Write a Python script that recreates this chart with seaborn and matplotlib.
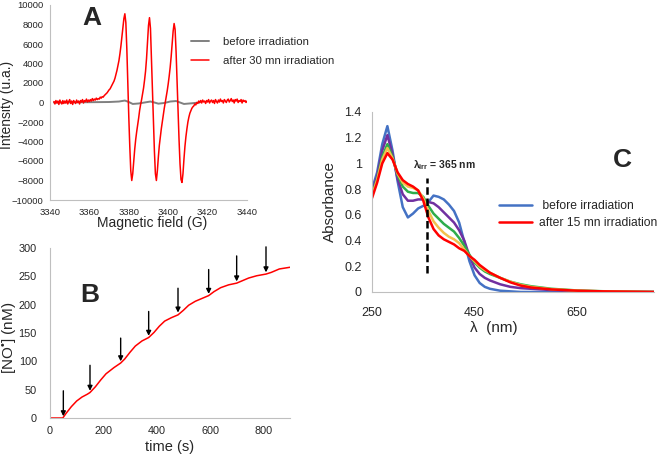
import numpy as np
import seaborn as sns
import matplotlib.pyplot as plt

# ---- panel A : EPR spectra ----
# field sweep 3342 -> 3440 G, 0.5 G step
field = np.arange(3342, 3440.5, 0.5)
after_30 = [
    100, -150, 200, -50, 150, -200, 250, 0, -150, 200,
    -100, 150, -50, 250, -150, 100, 300, -100, 150, -200,
    200, 50, -100, 250, 0, 150, -150, 200, 50, 300,
    -50, 200, 100, 350, 50, 250, 100, 300, 150, 400,
    200, 350, 250, 450, 300, 400, 350, 550, 450, 600,
    550, 700, 800, 900, 1000, 1150, 1300, 1400, 1600, 1800,
    2000, 2200, 2500, 2900, 3300, 3800, 4300, 5000, 5800, 6700,
    7700, 8600, 9100, 8200, 5500, 1800, -1500, -4500, -7000, -8000,
    -7300, -6000, -4800, -3800, -3000, -2300, -1600, -800, -200, 300,
    900, 1500, 2300, 3200, 4500, 6200, 7900, 8700, 7600, 4500,
    1200, -2000, -5000, -7300, -8000, -7000, -5600, -4400, -3500, -2700,
    -2000, -1300, -600, 0, 600, 1200, 1900, 2700, 3600, 4700,
    6000, 7300, 8100, 7500, 5200, 2200, -900, -3800, -6300, -7900,
    -8200, -7300, -5800, -4500, -3500, -2700, -2000, -1500, -1100, -850,
    -600, -450, -350, -150, -250, 0, -100, 150, 0, 200,
    -50, 250, 50, 150, -100, 200, 50, 300, -50, 150,
    250, 0, 200, -100, 300, 100, -50, 250, 50, 350,
    100, 200, -50, 300, 150, 0, 250, 350, 50, 200,
    400, 100, 250, -50, 300, 150, 350, 0, 200, 100,
    300, -50, 250, 100, 200, 0, 150,
]
before_field = [3342, 3350, 3360, 3370, 3375, 3378, 3380, 3382, 3385, 3388,
                3391, 3393, 3395, 3398, 3401, 3404, 3406, 3408, 3412, 3416]
before_int = [0, 20, 30, 50, 100, 200, 50, -150, -100, 0,
              100, 0, -120, -50, 100, 150, 0, -150, -80, 0]

# ---- panel B : NO release ----
t_s = [0, 48, 60, 80, 100, 120, 140, 150, 170, 190, 210, 240, 265, 280, 300,
       320, 345, 370, 390, 410, 430, 455, 480, 500, 520, 545, 575, 595, 615,
       640, 670, 700, 720, 745, 775, 810, 830, 860, 900]
no_nM = [0, 0, 8, 20, 30, 37, 42, 45, 55, 67, 78, 89, 97, 104, 116,
         127, 136, 142, 151, 162, 171, 177, 182, 190, 199, 206, 212, 216, 223,
         230, 235, 238, 242, 247, 251, 254, 257, 263, 266]
arrow_t = [50, 150, 265, 370, 480, 595, 700, 810]
arrow_top = [48, 93, 141, 188, 229, 262, 286, 302]
arrow_tip = [3, 48, 100, 145, 186, 219, 241, 257]

# ---- panel C : UV-vis ----
wl = [250, 260, 270, 280, 290, 300, 310, 320, 330, 340, 350, 360, 370, 380,
      390, 400, 410, 420, 430, 440, 450, 460, 470, 480, 500, 520, 540, 560,
      600, 650, 700, 800]
abs_blue = [.80, .93, 1.15, 1.29, 1.10, .86, .66, .58, .61, .65, .67, .70, .75, .74,
            .72, .68, .63, .54, .39, .24, .13, .07, .04, .025, .01, .005, 0, 0,
            0, 0, 0, 0]
abs_purple = [.78, .90, 1.10, 1.22, 1.07, .88, .76, .71, .71, .72, .72, .70, .69, .66,
              .62, .58, .54, .48, .40, .28, .19, .14, .11, .09, .06, .04, .03, .025,
              .015, .008, .004, 0]
abs_green = [.76, .88, 1.05, 1.15, 1.05, .91, .82, .78, .77, .77, .74, .67, .61, .57,
             .53, .50, .47, .42, .36, .29, .23, .19, .16, .14, .11, .08, .06, .045,
             .025, .012, .006, 0]
abs_yellow = [.75, .87, 1.03, 1.12, 1.04, .92, .85, .82, .81, .79, .73, .63, .55, .50,
              .46, .43, .41, .38, .33, .28, .24, .20, .17, .15, .11, .08, .055, .04,
              .022, .011, .005, 0]
abs_red = [.73, .85, 1.00, 1.08, 1.03, .93, .87, .84, .82, .79, .71, .58, .49, .44,
           .41, .39, .37, .34, .32, .28, .25, .21, .18, .15, .11, .075, .05, .035,
           .02, .01, .005, 0]
spectra_colors = ["#4472C4", "#7030A0", "#2EAD4B", "#F2C14E", "#FF0000"]
irr_x = 358
irr_y = [0.15, 0.89]

sns.set_style("white")
plt.rcParams["font.family"] = ["Liberation Sans", "DejaVu Sans"]
plt.rcParams["mathtext.fontset"] = "custom"
plt.rcParams["mathtext.rm"] = "Liberation Sans:bold"
plt.rcParams["mathtext.default"] = "rm"

fig = plt.figure(figsize=(6.58, 4.55), dpi=100)
W, H = 658, 455


def box(l, t, r, b):
    return [l / W, 1 - b / H, (r - l) / W, (b - t) / H]


def style(ax, size, xpad, ypad):
    for s in ["top", "right"]:
        ax.spines[s].set_visible(False)
    for s in ["left", "bottom"]:
        ax.spines[s].set_color("#BFBFBF")
        ax.spines[s].set_linewidth(0.8)
    ax.tick_params(length=2.5, width=0.8, color="#BFBFBF", labelcolor="#262626",
                   labelsize=size)
    ax.tick_params(axis="x", pad=xpad)
    ax.tick_params(axis="y", pad=ypad)


# A
axA = fig.add_axes(box(50, 5, 247, 200))
sns.lineplot(x=before_field, y=before_int, ax=axA, color="#808080", lw=1.4,
             label="before irradiation", sort=False)
sns.lineplot(x=field, y=after_30, ax=axA, color="#FF0000", lw=1.1,
             label="after 30 mn irradiation", sort=False)
axA.set_xlim(3340, 3440)
axA.set_ylim(-10000, 10000)
axA.set_xticks(range(3340, 3441, 20))
axA.set_yticks(range(-10000, 10001, 2000))
style(axA, 6.8, 3, 2)
axA.set_xlabel("Magnetic field (G)", fontsize=10)
axA.set_ylabel("Intensity (u.a.)", fontsize=10)
axA.xaxis.set_label_coords(0.52, -0.118)
axA.xaxis.label.set_va("center")
axA.yaxis.set_label_coords(-0.218, 0.487)
axA.yaxis.label.set_va("center")
axA.legend(loc="upper left", bbox_to_anchor=(185 / W, 1 - 31 / H),
           bbox_transform=fig.transFigure, frameon=False, fontsize=8.2,
           borderpad=0, handlelength=1.6, handletextpad=1.2, labelspacing=0.85)

# B
axB = fig.add_axes(box(50, 248, 290, 418))
sns.lineplot(x=t_s, y=no_nM, ax=axB, color="#FF0000", lw=1.1)
for xa, ya, yb in zip(arrow_t, arrow_top, arrow_tip):
    axB.annotate("", xy=(xa, yb), xytext=(xa, ya),
                 arrowprops=dict(arrowstyle="-|>", color="black", lw=1.0,
                                 mutation_scale=7, shrinkA=0, shrinkB=0))
axB.set_xlim(0, 900)
axB.set_ylim(0, 300)
axB.set_xticks(range(0, 801, 200))
axB.set_yticks(range(0, 301, 50))
style(axB, 7.8, 3, 7)
axB.set_xlabel("time (s)", fontsize=10.5)
axB.set_ylabel("[NO$^{\u2022}$] (nM)", fontsize=11)
axB.xaxis.set_label_coords(0.5, -0.17)
axB.xaxis.label.set_va("center")
axB.yaxis.set_label_coords(-0.172, 0.47)
axB.yaxis.label.set_va("center")

# C
axC = fig.add_axes(box(372, 112, 654, 292))
labels = [" before irradiation", None, None, None, "after 15 mn irradiation"]
for ys, c, lab in zip([abs_blue, abs_purple, abs_green, abs_yellow, abs_red],
                      spectra_colors, labels):
    sns.lineplot(x=wl, y=ys, ax=axC, color=c, lw=1.8, label=lab, sort=False)
axC.plot([irr_x, irr_x], irr_y, color="black", lw=1.8, ls=(0, (3, 1.5)))
axC.text(392, 0.99, r"$\lambda_{irr}$ = 365 nm", fontsize=7.5, fontweight="bold",
         ha="center", va="center")
axC.set_xlim(250, 800)
axC.set_ylim(0, 1.4)
axC.set_xticks([250, 450, 650])
axC.set_yticks([0, 0.2, 0.4, 0.6, 0.8, 1, 1.2, 1.4])
axC.set_yticklabels(["0", "0.2", "0.4", "0.6", "0.8", "1", "1.2", "1.4"])
style(axC, 9, 8, 5)
axC.set_xlabel("\u03bb  (nm)", fontsize=11)
axC.set_ylabel("Absorbance", fontsize=11)
axC.xaxis.set_label_coords(0.433, -0.2)
axC.xaxis.label.set_va("center")
axC.yaxis.set_label_coords(-0.148, 0.5)
axC.yaxis.label.set_va("center")
axC.legend(loc="upper left", bbox_to_anchor=(493 / W, 1 - 194 / H),
           bbox_transform=fig.transFigure, frameon=False, fontsize=8.7,
           borderpad=0, handlelength=2.7, handletextpad=0.6, labelspacing=0.4)

for s, (x, y) in zip("ABC", [(92, 18), (90, 295), (622, 160)]):
    fig.text(x / W, 1 - y / H, s, fontsize=19, fontweight="bold",
             ha="center", va="center")

fig.savefig("out.png", dpi=100)
